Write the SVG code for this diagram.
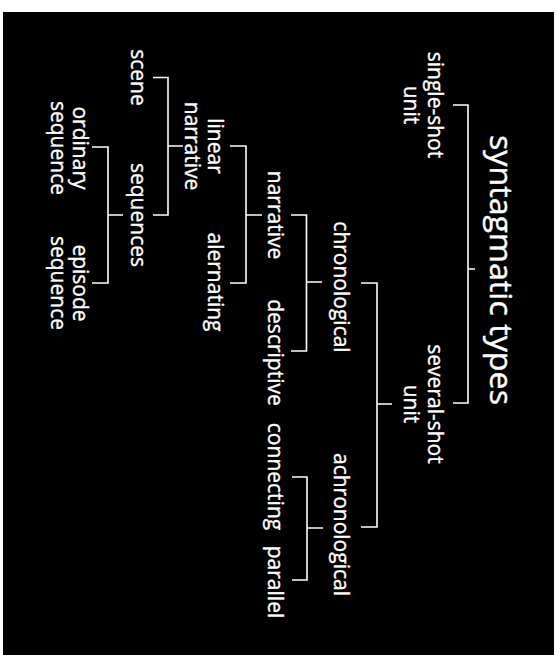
<svg xmlns="http://www.w3.org/2000/svg" width="557" height="655" viewBox="0 0 557 655">
<style>
.lbl{font-family:"Open Sans","Noto Sans","Liberation Sans",sans-serif;font-size:21px;fill:#fff;stroke:#fff;stroke-width:0.35;text-anchor:middle}
.title{font-family:"Open Sans","Noto Sans","Liberation Sans",sans-serif;font-size:31px;fill:#fff;stroke:#fff;stroke-width:0.4}
.con{fill:none;stroke:#fff;stroke-width:1.6}
</style>
<rect x="0" y="0" width="557" height="655" fill="#fff"/>
<rect x="3" y="12" width="551" height="643" fill="#000"/>
<g id="connectors">
<path class="con" d="M453,105 H468 V403 H453 M468,269 H475"/>
<path class="con" d="M361,283 H377 V527 H361 M377,404 H392"/>
<path class="con" d="M291,215 H306.5 V351 H291 M306.5,282 H322"/>
<path class="con" d="M292,477 H307 V580 H292 M307,528 H323"/>
<path class="con" d="M230,146 H246 V283 H230 M246,215 H262"/>
<path class="con" d="M153,77.5 H168 V215 H153 M168,146 H183"/>
<path class="con" d="M92,147 H108 V283 H92 M108,215 H123"/>
</g>
<g transform="translate(557,0) rotate(90)">
<g id="title"><text class="title" x="135" y="67" textLength="270" lengthAdjust="spacingAndGlyphs">syntagmatic types</text></g>
<g id="single-shot"><text class="lbl"><tspan x="105" y="129.5">single-shot</tspan><tspan x="105" y="153.5">unit</tspan></text></g>
<g id="several-shot"><text class="lbl"><tspan x="404" y="129.5">several-shot</tspan><tspan x="404" y="153.5">unit</tspan></text></g>
<g id="chronological"><text class="lbl" x="287" y="223.5">chronological</text></g>
<g id="achronological"><text class="lbl" x="524.5" y="223.5">achronological</text></g>
<g id="narrative"><text class="lbl" x="215" y="289.5">narrative</text></g>
<g id="descriptive"><text class="lbl" x="352.5" y="289.5">descriptive</text></g>
<g id="connecting"><text class="lbl" x="476.5" y="289.5">connecting</text></g>
<g id="parallel"><text class="lbl" x="582" y="289.5">parallel</text></g>
<g id="linear-narrative"><text class="lbl"><tspan x="146" y="349">linear</tspan><tspan x="146" y="372">narrative</tspan></text></g>
<g id="alernating"><text class="lbl" x="282" y="349">alernating</text></g>
<g id="scene"><text class="lbl" x="77.5" y="426">scene</text></g>
<g id="sequences"><text class="lbl" x="215" y="426">sequences</text></g>
<g id="ordinary-sequence"><text class="lbl"><tspan x="148" y="484">ordinary</tspan><tspan x="148" y="506">sequence</tspan></text></g>
<g id="episode-sequence"><text class="lbl"><tspan x="283" y="484">episode</tspan><tspan x="283" y="506">sequence</tspan></text></g>
</g>
</svg>
